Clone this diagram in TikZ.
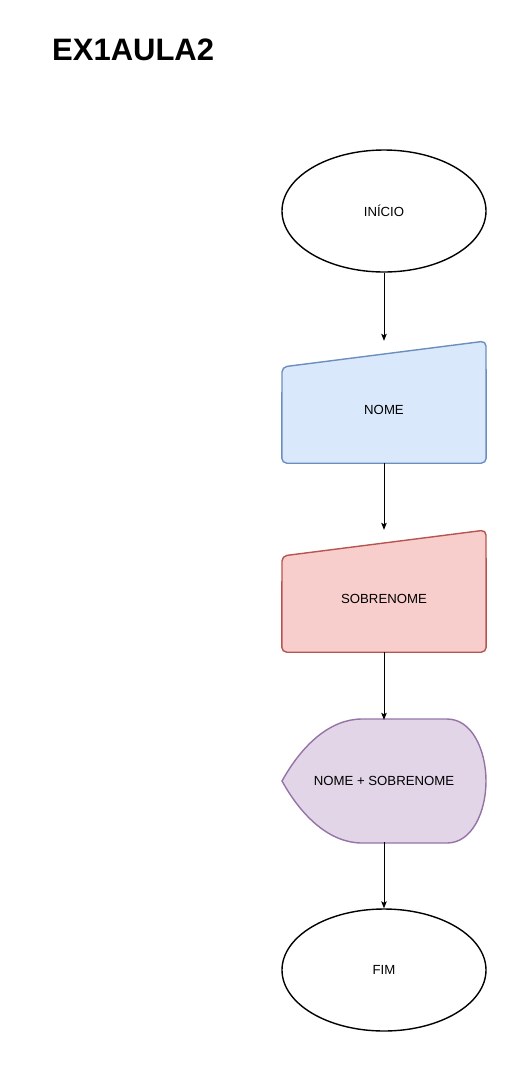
\documentclass[tikz,border=0pt]{standalone}
\usepackage{fontspec}
\setmainfont{Liberation Sans}
\usetikzlibrary{arrows.meta,shapes.geometric}
\definecolor{blueF}{HTML}{DAE8FC}\definecolor{blueD}{HTML}{6C8EBF}
\definecolor{redF}{HTML}{F8CECC}\definecolor{redD}{HTML}{B85450}
\definecolor{purF}{HTML}{E1D5E7}\definecolor{purD}{HTML}{9673A6}
\begin{document}
\begin{tikzpicture}[x=1pt,y=-1pt,
  box/.style={minimum width=204pt,minimum height=122pt,inner sep=0pt,font=\fontsize{13.2}{15}\selectfont},
  term/.style={box,ellipse,draw=black,line width=1.4pt,fill=white},
  flow/.style={-{Stealth[length=7pt,width=5.5pt,inset=1.5pt]},line width=0.9pt},
  shp/.style={line width=1.4pt,rounded corners=5pt}]
\useasboundingbox (0,0) rectangle (517,1080);
\node[anchor=base west,font=\bfseries\fontsize{31}{35}\selectfont,inner sep=0pt] (title) at (52,60) {EX1AULA2};
\node[term] (ini) at (384,211) {INÍCIO};
\node[box] (nome) at (384,402) {};
\draw[shp,draw=blueD,fill=blueF] (nome.south west) -- (282,367) -- (486,341) -- (nome.south east) -- cycle;
\node[box] at (384,410) {NOME};
\node[box] (sob) at (384,591) {};
\draw[shp,draw=redD,fill=redF] (sob.south west) -- (282,556) -- (486,530) -- (sob.south east) -- cycle;
\node[box] at (384,599) {SOBRENOME};
\node[box] (disp) at (384,781) {};
\draw[line width=1.4pt,draw=purD,fill=purF] (282,781) .. controls (302,745) and (330,719) .. (362,719) -- (447,719)
  .. controls (472,719) and (486,750) .. (486,781) .. controls (486,812) and (472,843) .. (447,843) -- (362,843)
  .. controls (330,843) and (302,817) .. (282,781) -- cycle;
\node[box] at (384,781) {NOME + SOBRENOME};
\node[term] (fim) at (384,970) {FIM};
\draw[flow] (ini.south) -- (nome.north);
\draw[flow] (nome.south) -- (sob.north);
\draw[flow] (sob.south) -- (disp.north);
\draw[flow] (disp.south) -- (fim.north);
\end{tikzpicture}
\end{document}
